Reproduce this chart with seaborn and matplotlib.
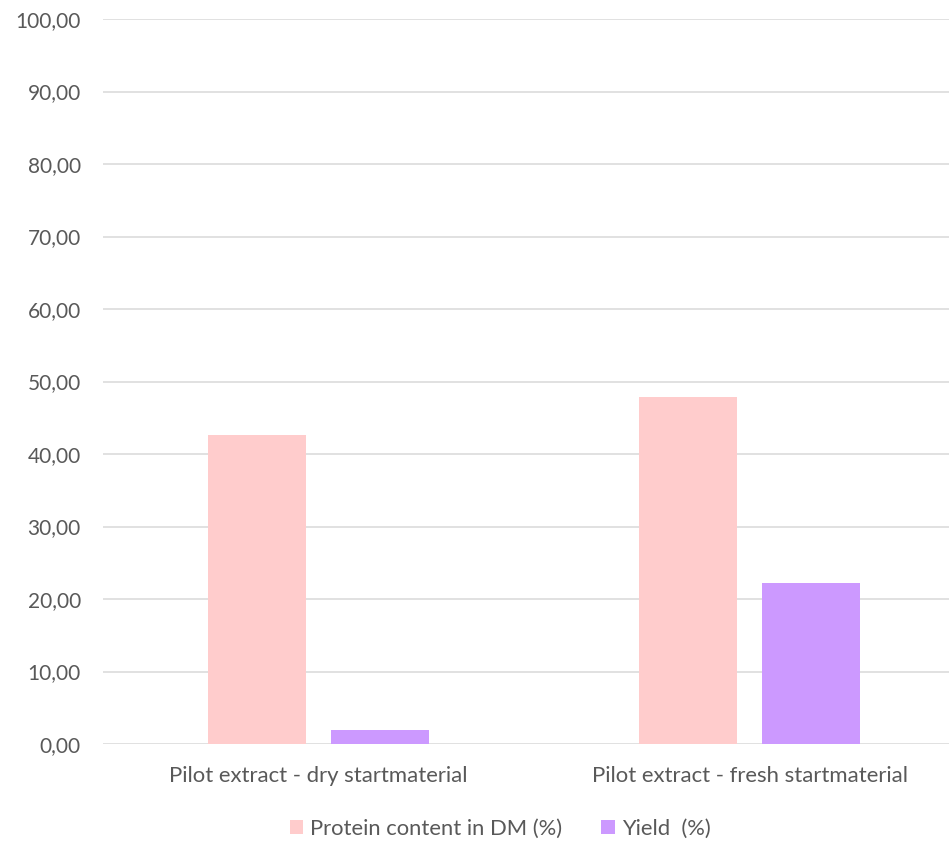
import matplotlib
matplotlib.use("Agg")
import matplotlib.pyplot as plt
import seaborn as sns
import pandas as pd
from matplotlib.ticker import FuncFormatter, MultipleLocator
from matplotlib.patches import Patch

categories = ["Pilot extract - dry startmaterial", "Pilot extract - fresh startmaterial"]
series_names = ["Protein content in DM (%)", "Yield  (%)"]
protein = [42.6, 47.9]
yield_vals = [1.9, 22.2]
colors = ["#FFCCCC", "#CC99FF"]

rows = []
for c, p, y in zip(categories, protein, yield_vals):
    rows.append({"cat": c, "series": series_names[0], "value": p})
    rows.append({"cat": c, "series": series_names[1], "value": y})
df = pd.DataFrame(rows)

sns.set_theme(style="white")
plt.rcParams["font.family"] = ["Lato", "DejaVu Sans"]
text_col = "#595959"

fig = plt.figure(figsize=(9.49, 8.42), dpi=100)
ax = fig.add_axes([103 / 949, 1 - 744 / 842, (949 - 103) / 949, (744 - 19) / 842])

sns.barplot(data=df, x="cat", y="value", hue="series", order=categories,
            hue_order=series_names, palette=colors, width=0.571, gap=0.211,
            saturation=1, errorbar=None, ax=ax, legend=False,
            edgecolor="none", linewidth=0)

ax.set_ylim(0, 100)
ax.set_xlim(-0.5, -0.5 + 846 / 431)
ax.yaxis.set_major_locator(MultipleLocator(10))
ax.yaxis.set_major_formatter(FuncFormatter(lambda v, _: f"{v:.2f}".replace(".", ",")))
ax.grid(axis="y", color="#D9D9D9", linewidth=1.1)
ax.set_axisbelow(True)
for s in ax.spines.values():
    s.set_visible(False)
ax.tick_params(axis="both", length=0, colors=text_col)
ax.tick_params(axis="y", pad=16, labelsize=15)
ax.tick_params(axis="x", pad=15.5, labelsize=15.9)
ax.set_xlabel("")
ax.set_ylabel("")

handles = [Patch(facecolor=c, edgecolor="none") for c in colors]
fig.legend(handles, series_names, loc="center", bbox_to_anchor=(500 / 949, 1 - 829 / 842),
           ncol=2, frameon=False, fontsize=15.8, labelcolor=text_col,
           handlelength=0.62, handleheight=0.62, handletextpad=0.3, columnspacing=1.8)

fig.savefig("out.png", dpi=100)
